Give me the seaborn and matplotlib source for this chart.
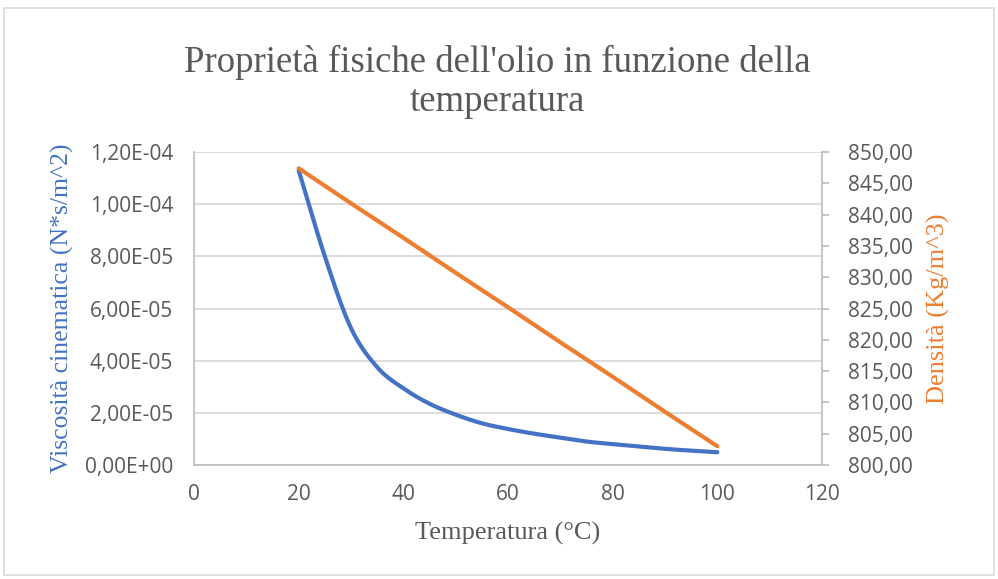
import numpy as np
import pandas as pd
import matplotlib
matplotlib.use("Agg")
import matplotlib.pyplot as plt
import matplotlib.ticker as mticker
from matplotlib.patches import Rectangle
import seaborn as sns

# Temperatura (°C)
temperature = [20, 25, 30, 35, 40, 45, 50, 55, 60, 65, 70, 75, 80, 85, 90, 95, 100]
# Viscosità cinematica (N*s/m^2)
viscosity = [1.13e-4, 8.0e-5, 5.25e-5, 3.75e-5, 2.94e-5, 2.35e-5, 1.93e-5, 1.60e-5,
             1.38e-5, 1.20e-5, 1.05e-5, 9.0e-6, 8.0e-6, 7.1e-6, 6.2e-6, 5.5e-6, 4.9e-6]
# Densità (Kg/m^3)
density_temp = [20, 30, 40, 50, 60, 70, 80, 90, 100]
density = [847.4, 841.8, 836.3, 830.7, 825.2, 819.6, 814.1, 808.5, 803.0]

x_ticks = [0, 20, 40, 60, 80, 100, 120]
left_ticks = [0, 2e-5, 4e-5, 6e-5, 8e-5, 1.0e-4, 1.2e-4]
right_ticks = [800, 805, 810, 815, 820, 825, 830, 835, 840, 845, 850]

BLUE = "#4472C4"
ORANGE = "#ED7D31"
GRAY = "#595959"
GRID = "#D9D9D9"
SPINE = "#BFBFBF"


def smooth(xs, ys, n=20):
    """Catmull-Rom style smoothing through the data points."""
    xs = np.asarray(xs, float)
    ys = np.asarray(ys, float)
    px = np.concatenate([[2 * xs[0] - xs[1]], xs, [2 * xs[-1] - xs[-2]]])
    py = np.concatenate([[2 * ys[0] - ys[1]], ys, [2 * ys[-1] - ys[-2]]])
    ox, oy = [], []
    for i in range(1, len(px) - 2):
        t = np.linspace(0, 1, n, endpoint=False)
        for p, out in ((px, ox), (py, oy)):
            p0, p1, p2, p3 = p[i - 1], p[i], p[i + 1], p[i + 2]
            out.extend(0.5 * ((2 * p1) + (-p0 + p2) * t +
                              (2 * p0 - 5 * p1 + 4 * p2 - p3) * t ** 2 +
                              (-p0 + 3 * p1 - 3 * p2 + p3) * t ** 3))
    ox.append(xs[-1])
    oy.append(ys[-1])
    return np.array(ox), np.array(oy)


sns.set_theme(style="white")
plt.rcParams["font.family"] = ["Open Sans", "DejaVu Sans"]

fig = plt.figure(figsize=(9.98, 5.79), dpi=100)
ax = fig.add_axes([194 / 998, 1 - 465 / 579, (822 - 194) / 998, (465 - 152) / 579])
ax2 = ax.twinx()

sx, sy = smooth(temperature, viscosity)
visc_df = pd.DataFrame({"T": sx, "v": sy})
dens_df = pd.DataFrame({"T": density_temp, "d": density})

sns.lineplot(data=visc_df, x="T", y="v", ax=ax, color=BLUE, linewidth=3,
             sort=False, solid_capstyle="round")
sns.lineplot(data=dens_df, x="T", y="d", ax=ax2, color=ORANGE, linewidth=3,
             solid_capstyle="round")

ax.set_xlim(0, 120)
ax.set_ylim(0, 1.2e-4)
ax2.set_ylim(800, 850)
ax.set_xticks(x_ticks)
ax.set_yticks(left_ticks)
ax2.set_yticks(right_ticks)


def sci_it(v, pos):
    return f"{v:.2E}".replace(".", ",")


ax.yaxis.set_major_formatter(mticker.FuncFormatter(sci_it))
ax2.yaxis.set_major_formatter(mticker.FuncFormatter(lambda v, p: f"{v:.2f}".replace(".", ",")))

ax.yaxis.grid(True, color=GRID, linewidth=1.3)
ax.xaxis.grid(False)
ax2.grid(False)

for a in (ax, ax2):
    for s in a.spines.values():
        s.set_visible(False)
ax.spines["left"].set_visible(True)
ax.spines["bottom"].set_visible(True)
ax2.spines["right"].set_visible(True)
for s in (ax.spines["left"], ax.spines["bottom"], ax2.spines["right"]):
    s.set_color(SPINE)
    s.set_linewidth(1.3)

ax.tick_params(axis="y", length=0, labelsize=15, labelcolor=GRAY, pad=15)
ax.tick_params(axis="x", length=0, labelsize=15, labelcolor=GRAY, pad=14)
ax2.tick_params(axis="y", length=5, width=1.3, color=SPINE, direction="out",
                labelsize=15, labelcolor=GRAY, pad=14)

serif = ["Liberation Serif", "DejaVu Serif"]
ax.set_xlabel("Temperatura (°C)", family=serif, fontsize=19, color=GRAY, labelpad=12)
ax.set_ylabel("Viscosità cinematica (N*s/m^2)", family=serif, fontsize=18.5,
              color=BLUE, labelpad=8)
ax2.set_ylabel("Densità (Kg/m^3)", family=serif, fontsize=19, color=ORANGE,
               labelpad=10)

fig.text(0.498, 1 - 62 / 579, "Proprietà fisiche dell'olio in funzione della",
         ha="center", va="center", family=serif, fontsize=26.5, color=GRAY)
fig.text(0.498, 1 - 102 / 579, "temperatura",
         ha="center", va="center", family=serif, fontsize=26.5, color=GRAY)

fig.patches.append(Rectangle((4 / 998, 4 / 579), 990 / 998, 567 / 579,
                             transform=fig.transFigure, fill=False,
                             edgecolor=GRID, linewidth=1.2))

fig.savefig("out.png", dpi=100, facecolor="white")
